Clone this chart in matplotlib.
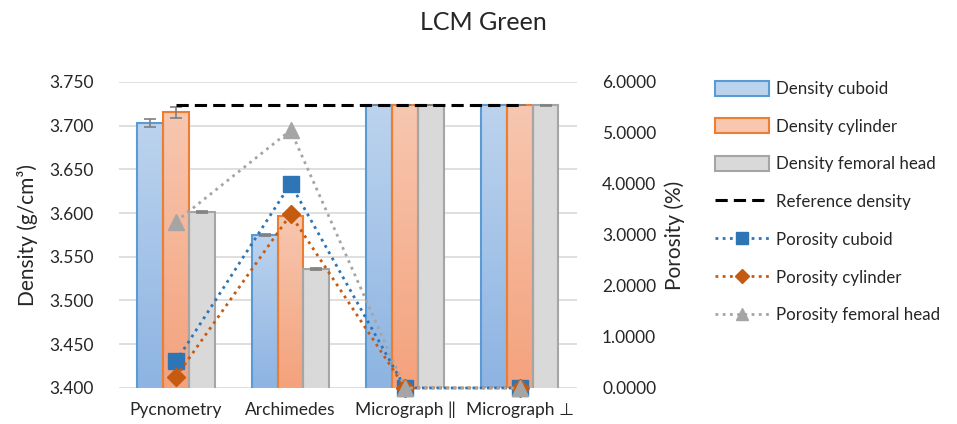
import numpy as np
import matplotlib
matplotlib.use("Agg")
import matplotlib.pyplot as plt
from matplotlib.colors import LinearSegmentedColormap
from matplotlib.lines import Line2D
from matplotlib.patches import Patch

plt.rcParams['font.family'] = ['Lato', 'DejaVu Sans']

categories = ['Pycnometry', 'Archimedes', 'Micrograph \u2016', 'Micrograph \u22a5']
density_cuboid = [3.703, 3.575, 3.723, 3.723]
density_cylinder = [3.715, 3.597, 3.723, 3.723]
density_femoral = [3.601, 3.536, 3.723, 3.723]
err_cuboid = [0.0045, 0.001, 0.0, 0.0]
err_cylinder = [0.006, 0.0, 0.0, 0.0]
err_femoral = [0.001, 0.001, 0.0, 0.001]
reference_density = [3.724, 3.724, 3.724, 3.724]
porosity_cuboid = [0.52, 4.00, 0.0, 0.0]
porosity_cylinder = [0.22, 3.40, 0.0, 0.0]
porosity_femoral = [3.26, 5.05, 0.0, 0.0]

fig = plt.figure(figsize=(9.57, 4.24), dpi=100)
ax = fig.add_axes([0.124, 0.085, 0.479, 0.722])
ax2 = ax.twinx()

x = np.arange(len(categories))
w = 0.225
ylo, yhi = 3.4, 3.75

bar_specs = [
    (density_cuboid, err_cuboid, '#5b9bd5', '#8db4e2', '#bcd3ee', 'Density cuboid'),
    (density_cylinder, err_cylinder, '#ed7d31', '#f4a27c', '#f7c7b0', 'Density cylinder'),
    (density_femoral, err_femoral, '#a5a5a5', '#d9d9d9', '#d9d9d9', 'Density femoral head'),
]

# bars with a vertical gradient fill, like the Excel original
grad = np.linspace(0, 1, 100).reshape(-1, 1)
handles = []
for i, (vals, errs, ec, c_bot, c_top, lab) in enumerate(bar_specs):
    pos = x + (i - 1) * w
    bars = ax.bar(pos, vals, w, color='none', edgecolor=ec, linewidth=1.5, zorder=3)
    cmap = LinearSegmentedColormap.from_list('g%d' % i, [c_bot, c_top])
    for p in bars:
        x0 = p.get_x()
        im = ax.imshow(grad, extent=(x0, x0 + p.get_width(), ylo, p.get_height()),
                       origin='lower', aspect='auto', cmap=cmap, zorder=2)
        im.set_clip_path(p)
    ax.errorbar(pos, vals, yerr=errs, fmt='none', ecolor='#7f7f7f', elinewidth=1.2,
                capsize=4, capthick=1.2, zorder=4)
    handles.append(Patch(facecolor=c_top, edgecolor=ec, linewidth=1.5, label=lab))

ax.plot(x, reference_density, color='black', linestyle=(0, (4, 2)), linewidth=2.2, zorder=5)
handles.append(Line2D([], [], color='black', linestyle=(0, (4, 2)), linewidth=2.2,
                      label='Reference density'))

ax.set_xlim(-0.5, len(categories) - 0.5)
ax.set_ylim(ylo, yhi)
ax.set_yticks(np.arange(3.4, 3.7501, 0.05))
ax.yaxis.set_major_formatter(plt.FormatStrFormatter('%.3f'))
ax.set_xticks(x)
ax.set_xticklabels(categories)
ax.grid(axis='y', color='#d9d9d9', linewidth=1.2)
ax.set_axisbelow(True)
ax.tick_params(length=0, labelsize=12.5, colors='#262626', pad=18)
ax.tick_params(axis='x', pad=10)
ax.set_ylabel('Density (g/cm³)', fontsize=15, color='#262626', labelpad=8)

# porosity on the secondary axis
line_specs = [
    (porosity_cuboid, '#2e75b6', 's', 12, 'Porosity cuboid'),
    (porosity_cylinder, '#c55a11', 'D', 9.5, 'Porosity cylinder'),
    (porosity_femoral, '#a5a5a5', '^', 12, 'Porosity femoral head'),
]
for vals, c, m, ms, lab in line_specs:
    ax2.plot(x, vals, color=c, linestyle=(0, (1, 1.6)), linewidth=2, marker=m,
             markersize=ms, markerfacecolor=c, markeredgecolor=c, zorder=6, clip_on=False)
    handles.append(Line2D([], [], color=c, linestyle=(0, (1, 1.6)), linewidth=2, marker=m,
                          markersize=ms * 0.75, markerfacecolor=c, markeredgecolor=c, label=lab))

ax2.set_ylim(0, 6)
ax2.set_yticks(np.arange(0, 6.01, 1))
ax2.yaxis.set_major_formatter(plt.FormatStrFormatter('%.4f'))
ax2.tick_params(length=0, labelsize=12.5, colors='#262626', pad=18)
ax2.set_ylabel('Porosity (%)', fontsize=15, color='#262626', labelpad=6)

for a in (ax, ax2):
    for s in a.spines.values():
        s.set_visible(False)

fig.suptitle('LCM Green', x=0.505, y=0.975, fontsize=18, color='#262626')

fig.legend(handles=handles, loc='upper left', bbox_to_anchor=(0.747, 0.81), frameon=False,
           fontsize=12.2, handlelength=3.2, handleheight=1.0, labelspacing=1.26,
           handletextpad=0.4, borderpad=0, borderaxespad=0, labelcolor='#262626')

fig.savefig('out.png', dpi=100)
